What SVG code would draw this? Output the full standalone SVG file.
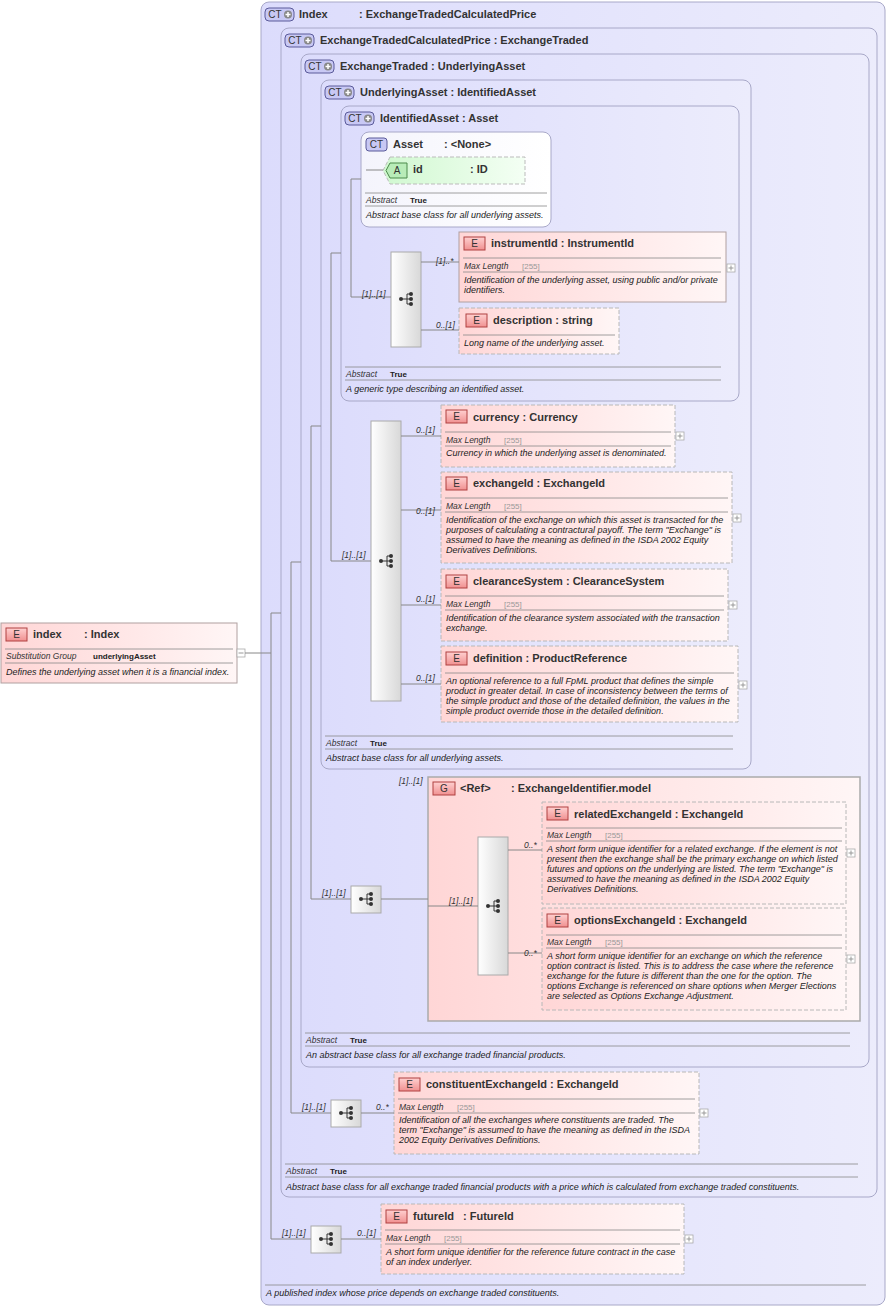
<svg xmlns="http://www.w3.org/2000/svg" width="890" height="1308" viewBox="0 0 890 1308">
<style>
text{font-family:"Liberation Sans",Arial,sans-serif}
.t{font-size:11px;font-weight:bold;fill:#333}
.n{font-size:8.5px;font-style:italic;fill:#333}
.k{font-size:8px;font-weight:bold;fill:#222}
.g{font-size:8px;fill:#999}
.c{font-size:9px;font-style:italic;fill:#222}
.ct{fill:url(#gb);stroke:#a8a8c8;stroke-width:1}
.el{fill:url(#gp);stroke:#b0a0a0;stroke-width:1}
.ed{fill:url(#gp);stroke:#b8b8b8;stroke-width:1;stroke-dasharray:4,2}
.sep{stroke:#888;stroke-width:0.8}
.ln{stroke:#888;stroke-width:1;fill:none}
.sq{fill:url(#gs);stroke:#aaa}
.bE{fill:url(#gbe);stroke:#b04040}
.bC{fill:#c8c8f4;stroke:#5a5a9a}
.bt{font-size:10px;fill:#333;text-anchor:middle}
.pl{fill:#fff;stroke:#aaa;stroke-width:0.8}
</style>
<defs>
<linearGradient id="gb" x1="0" y1="0" x2="1" y2="0"><stop offset="0" stop-color="#dcdcfc"/><stop offset="1" stop-color="#ececfc"/></linearGradient>
<linearGradient id="gp" x1="0" y1="0" x2="1" y2="0"><stop offset="0" stop-color="#ffd6d6"/><stop offset="1" stop-color="#fff6f6"/></linearGradient>
<linearGradient id="gw" x1="0" y1="0" x2="1" y2="0"><stop offset="0" stop-color="#f4f4fc"/><stop offset="1" stop-color="#ffffff"/></linearGradient>
<linearGradient id="gs" x1="0" y1="0" x2="1" y2="0"><stop offset="0" stop-color="#ffffff"/><stop offset="1" stop-color="#d8d8d8"/></linearGradient>
<linearGradient id="gbe" x1="0" y1="0" x2="0" y2="1"><stop offset="0" stop-color="#ffd0d0"/><stop offset="1" stop-color="#f09090"/></linearGradient>
<linearGradient id="ga" x1="0" y1="0" x2="1" y2="0"><stop offset="0" stop-color="#d0f8d0"/><stop offset="1" stop-color="#f4fff4"/></linearGradient>
<g id="ic"><circle cx="-6" cy="0" r="2" fill="#333"/><path d="M-6 0H0M0 -5V5M0 -5H4M0 0H4M0 5H4" stroke="#333" fill="none"/><circle cx="4" cy="-5" r="2" fill="#333"/><circle cx="4" cy="0" r="2" fill="#333"/><circle cx="4" cy="5" r="2" fill="#333"/></g>
<g id="ctp"><rect x="0" y="0" width="29" height="13" rx="4" class="bC"/><text x="10" y="10" class="bt">CT</text><circle cx="23" cy="6.5" r="4" fill="#888"/><path d="M20.5 6.5h5M23 4v5" stroke="#fff" stroke-width="1.5"/></g>
<g id="eb"><rect x="0" y="0" width="21" height="13" class="bE"/><text x="10.5" y="10" class="bt">E</text></g>
<g id="plus"><rect x="0" y="0" width="8" height="8" class="pl"/><path d="M1.5 4h5M4 1.5v5" stroke="#999"/></g>
</defs>

<g id="ct-index"><rect x="261" y="2" width="624" height="1303" rx="8" class="ct"/><use href="#ctp" x="265" y="8"/><text x="299" y="18" class="t">Index</text><text x="359" y="18" class="t">: ExchangeTradedCalculatedPrice</text>
<line x1="265" y1="1285" x2="866" y2="1285" class="sep"/><text x="266" y="1296" class="c">A published index whose price depends on exchange traded constituents.</text></g>

<g id="ct-etcp"><rect x="281" y="28" width="596" height="1169" rx="8" class="ct"/><use href="#ctp" x="285" y="34"/><text x="320" y="44" class="t">ExchangeTradedCalculatedPrice : ExchangeTraded</text>
<line x1="285" y1="1164" x2="858" y2="1164" class="sep"/><text x="286" y="1174" class="n">Abstract</text><text x="330" y="1174" class="k">True</text><line x1="285" y1="1177" x2="858" y2="1177" class="sep"/><text x="286" y="1190" class="c">Abstract base class for all exchange traded financial products with a price which is calculated from exchange traded constituents.</text></g>

<g id="ct-et"><rect x="301" y="54" width="568" height="1013" rx="8" class="ct"/><use href="#ctp" x="305" y="60"/><text x="340" y="70" class="t">ExchangeTraded : UnderlyingAsset</text>
<line x1="305" y1="1033" x2="850" y2="1033" class="sep"/><text x="306" y="1043" class="n">Abstract</text><text x="350" y="1043" class="k">True</text><line x1="305" y1="1046" x2="850" y2="1046" class="sep"/><text x="306" y="1058" class="c">An abstract base class for all exchange traded financial products.</text></g>

<g id="ct-ua"><rect x="321" y="80" width="430" height="689" rx="8" class="ct"/><use href="#ctp" x="325" y="86"/><text x="360" y="96" class="t">UnderlyingAsset : IdentifiedAsset</text>
<line x1="325" y1="736" x2="733" y2="736" class="sep"/><text x="326" y="746" class="n">Abstract</text><text x="370" y="746" class="k">True</text><line x1="325" y1="749" x2="733" y2="749" class="sep"/><text x="326" y="761" class="c">Abstract base class for all underlying assets.</text></g>

<g id="ct-ia"><rect x="341" y="106" width="398" height="295" rx="8" class="ct"/><use href="#ctp" x="345" y="112"/><text x="380" y="122" class="t">IdentifiedAsset : Asset</text>
<line x1="345" y1="367" x2="721" y2="367" class="sep"/><text x="346" y="377" class="n">Abstract</text><text x="390" y="377" class="k">True</text><line x1="345" y1="380" x2="721" y2="380" class="sep"/><text x="346" y="392" class="c">A generic type describing an identified asset.</text></g>

<g id="ct-asset"><rect x="361" y="132" width="190" height="95" rx="8" fill="url(#gw)" stroke="#a8a8c8"/><rect x="366" y="138" width="21" height="13" rx="3" class="bC"/><text x="376.5" y="148" class="bt">CT</text><text x="393" y="148" class="t">Asset</text><text x="444" y="148" class="t">: &lt;None&gt;</text>
<line x1="365" y1="193" x2="547" y2="193" class="sep"/><text x="366" y="203" class="n">Abstract</text><text x="410" y="203" class="k">True</text><line x1="365" y1="206" x2="547" y2="206" class="sep"/><text x="366" y="218" class="c">Abstract base class for all underlying assets.</text></g>

<g id="attr-id"><path d="M390 157H525V184H390L383 170.5Z" fill="url(#ga)" stroke="#bbb" stroke-dasharray="4,2"/><path d="M390 163H407V178H390L386 170.5Z" fill="#b8ecb8" stroke="#4a8a4a"/><text x="397" y="174" class="bt">A</text><text x="413" y="173" class="t">id</text><text x="470" y="173" class="t">: ID</text></g>

<g id="seq1"><rect x="391" y="252" width="30" height="95" class="sq"/><use href="#ic" x="407" y="299"/></g>
<g id="seq2"><rect x="371" y="421" width="30" height="280" class="sq"/><use href="#ic" x="387" y="561"/></g>
<g id="seq3"><rect x="351" y="886" width="30" height="27" class="sq"/><use href="#ic" x="367" y="899"/></g>
<g id="seq5"><rect x="331" y="1100" width="30" height="27" class="sq"/><use href="#ic" x="347" y="1113"/></g>
<g id="seq6"><rect x="311" y="1226" width="30" height="27" class="sq"/><use href="#ic" x="327" y="1239"/></g>

<g id="el-index"><rect x="1" y="623" width="236" height="60" class="el"/><use href="#eb" x="6" y="628"/><text x="33" y="638" class="t">index</text><text x="84" y="638" class="t">: Index</text>
<line x1="5" y1="649" x2="233" y2="649" class="sep"/><text x="6" y="659" class="n">Substitution Group</text><text x="93" y="659" class="k">underlyingAsset</text><line x1="5" y1="663" x2="233" y2="663" class="sep"/><text x="6" y="675" class="c">Defines the underlying asset when it is a financial index.</text>
<rect x="237" y="649" width="8" height="8" class="pl"/><path d="M238.5 653h5" stroke="#999"/></g>

<g id="el-instrumentId"><rect x="459" y="232" width="267" height="70" class="el"/><use href="#eb" x="464" y="237"/><text x="491" y="247" class="t">instrumentId : InstrumentId</text>
<line x1="463" y1="258" x2="721" y2="258" class="sep"/><text x="464" y="269" class="n">Max Length</text><text x="522" y="269" class="g">[255]</text><line x1="463" y1="272" x2="721" y2="272" class="sep"/><text x="464" y="283" class="c">Identification of the underlying asset, using public and/or private</text><text x="464" y="293" class="c">identifiers.</text><use href="#plus" x="727" y="264"/></g>

<g id="el-description"><rect x="459" y="308" width="160" height="46" class="ed"/><use href="#eb" x="466" y="314"/><text x="493" y="324" class="t">description : string</text>
<line x1="463" y1="335" x2="615" y2="335" class="sep"/><text x="464" y="346" class="c">Long name of the underlying asset.</text></g>

<g id="el-currency"><rect x="441" y="405" width="234" height="62" class="ed"/><use href="#eb" x="446" y="410"/><text x="473" y="421" class="t">currency : Currency</text>
<line x1="445" y1="432" x2="671" y2="432" class="sep"/><text x="446" y="443" class="n">Max Length</text><text x="504" y="443" class="g">[255]</text><line x1="445" y1="446" x2="671" y2="446" class="sep"/><text x="446" y="456" class="c">Currency in which the underlying asset is denominated.</text><use href="#plus" x="676" y="432"/></g>

<g id="el-exchangeId"><rect x="441" y="472" width="291" height="91" class="ed"/><use href="#eb" x="446" y="477"/><text x="473" y="487" class="t">exchangeId : ExchangeId</text>
<line x1="445" y1="498" x2="728" y2="498" class="sep"/><text x="446" y="509" class="n">Max Length</text><text x="504" y="509" class="g">[255]</text><line x1="445" y1="512" x2="728" y2="512" class="sep"/>
<text x="446" y="523" class="c">Identification of the exchange on which this asset is transacted for the</text><text x="446" y="533" class="c">purposes of calculating a contractural payoff. The term "Exchange" is</text><text x="446" y="543" class="c">assumed to have the meaning as defined in the ISDA 2002 Equity</text><text x="446" y="553" class="c">Derivatives Definitions.</text><use href="#plus" x="733" y="514"/></g>

<g id="el-clearanceSystem"><rect x="441" y="569" width="287" height="72" class="ed"/><use href="#eb" x="446" y="575"/><text x="473" y="585" class="t">clearanceSystem : ClearanceSystem</text>
<line x1="445" y1="596" x2="724" y2="596" class="sep"/><text x="446" y="607" class="n">Max Length</text><text x="504" y="607" class="g">[255]</text><line x1="445" y1="610" x2="724" y2="610" class="sep"/>
<text x="446" y="621" class="c">Identification of the clearance system associated with the transaction</text><text x="446" y="631" class="c">exchange.</text><use href="#plus" x="729" y="601"/></g>

<g id="el-definition"><rect x="441" y="646" width="297" height="76" class="ed"/><use href="#eb" x="446" y="652"/><text x="473" y="662" class="t">definition : ProductReference</text>
<line x1="445" y1="673" x2="734" y2="673" class="sep"/>
<text x="446" y="684" class="c">An optional reference to a full FpML product that defines the simple</text><text x="446" y="694" class="c">product in greater detail. In case of inconsistency between the terms of</text><text x="446" y="704" class="c">the simple product and those of the detailed definition, the values in the</text><text x="446" y="714" class="c">simple product override those in the detailed definition.</text><use href="#plus" x="739" y="681"/></g>

<g id="grp"><rect x="428" y="777" width="432" height="244" fill="url(#gp)" stroke="#aaa" stroke-width="1.5"/><rect x="433" y="782" width="22" height="13" class="bE"/><text x="444" y="792" class="bt">G</text><text x="460" y="792" class="t">&lt;Ref&gt;</text><text x="511" y="792" class="t">: ExchangeIdentifier.model</text>
<rect x="478" y="837" width="30" height="138" class="sq"/><use href="#ic" x="494" y="906"/></g>

<g id="el-relatedExchangeId"><rect x="542" y="802" width="304" height="102" class="ed"/><use href="#eb" x="547" y="807"/><text x="574" y="818" class="t">relatedExchangeId : ExchangeId</text>
<line x1="546" y1="828" x2="842" y2="828" class="sep"/><text x="547" y="838" class="n">Max Length</text><text x="605" y="838" class="g">[255]</text><line x1="546" y1="841" x2="842" y2="841" class="sep"/>
<text x="547" y="852" class="c">A short form unique identifier for a related exchange. If the element is not</text><text x="547" y="862" class="c">present then the exchange shall be the primary exchange on which listed</text><text x="547" y="872" class="c">futures and options on the underlying are listed. The term "Exchange" is</text><text x="547" y="882" class="c">assumed to have the meaning as defined in the ISDA 2002 Equity</text><text x="547" y="892" class="c">Derivatives Definitions.</text><use href="#plus" x="847" y="849"/></g>

<g id="el-optionsExchangeId"><rect x="542" y="908" width="304" height="102" class="ed"/><use href="#eb" x="547" y="914"/><text x="574" y="924" class="t">optionsExchangeId : ExchangeId</text>
<line x1="546" y1="935" x2="842" y2="935" class="sep"/><text x="547" y="945" class="n">Max Length</text><text x="605" y="945" class="g">[255]</text><line x1="546" y1="948" x2="842" y2="948" class="sep"/>
<text x="547" y="959" class="c">A short form unique identifier for an exchange on which the reference</text><text x="547" y="969" class="c">option contract is listed. This is to address the case where the reference</text><text x="547" y="979" class="c">exchange for the future is different than the one for the option. The</text><text x="547" y="989" class="c">options Exchange is referenced on share options when Merger Elections</text><text x="547" y="999" class="c">are selected as Options Exchange Adjustment.</text><use href="#plus" x="847" y="955"/></g>

<g id="el-constituentExchangeId"><rect x="394" y="1072" width="305" height="82" class="ed"/><use href="#eb" x="399" y="1078"/><text x="426" y="1088" class="t">constituentExchangeId : ExchangeId</text>
<line x1="398" y1="1099" x2="695" y2="1099" class="sep"/><text x="399" y="1110" class="n">Max Length</text><text x="457" y="1110" class="g">[255]</text><line x1="398" y1="1113" x2="695" y2="1113" class="sep"/>
<text x="399" y="1123" class="c">Identification of all the exchanges where constituents are traded. The</text><text x="399" y="1133" class="c">term "Exchange" is assumed to have the meaning as defined in the ISDA</text><text x="399" y="1143" class="c">2002 Equity Derivatives Definitions.</text><use href="#plus" x="700" y="1109"/></g>

<g id="el-futureId"><rect x="381" y="1204" width="303" height="70" class="ed"/><use href="#eb" x="386" y="1210"/><text x="413" y="1220" class="t">futureId</text><text x="463" y="1220" class="t">: FutureId</text>
<line x1="385" y1="1230" x2="680" y2="1230" class="sep"/><text x="386" y="1241" class="n">Max Length</text><text x="444" y="1241" class="g">[255]</text><line x1="385" y1="1244" x2="680" y2="1244" class="sep"/>
<text x="386" y="1255" class="c">A short form unique identifier for the reference future contract in the case</text><text x="386" y="1265" class="c">of an index underlyer.</text><use href="#plus" x="685" y="1235"/></g>

<g id="connectors">
<path class="ln" d="M366 170H383M351 179H361M351 179V297H391"/>
<path class="ln" d="M331 253H341M331 253V561H371"/>
<path class="ln" d="M311 426H321M311 426V899H351"/>
<path class="ln" d="M291 562H301M291 562V1113H331"/>
<path class="ln" d="M245 653H271M271 613H281M271 613V1239H311"/>
<path class="ln" d="M421 262H459M421 330H459"/>
<path class="ln" d="M401 436H441M401 510H441M401 605H441M401 684H441"/>
<path class="ln" d="M381 899H428M428 906H478M508 850H542M508 953H542"/>
<path class="ln" d="M361 1113H394M341 1239H381"/>
<g class="n"><text x="362" y="297">[1]..[1]</text><text x="436" y="264">[1]..*</text><text x="436" y="328">0..[1]</text>
<text x="342" y="558">[1]..[1]</text><text x="416" y="433">0..[1]</text><text x="416" y="514">0..[1]</text><text x="416" y="602">0..[1]</text><text x="416" y="681">0..[1]</text>
<text x="322" y="896">[1]..[1]</text><text x="399" y="784">[1]..[1]</text><text x="449" y="904">[1]..[1]</text><text x="524" y="848">0..*</text><text x="524" y="956">0..*</text>
<text x="302" y="1110">[1]..[1]</text><text x="376" y="1110">0..*</text><text x="282" y="1236">[1]..[1]</text><text x="357" y="1236">0..[1]</text></g>
</g>
</svg>
